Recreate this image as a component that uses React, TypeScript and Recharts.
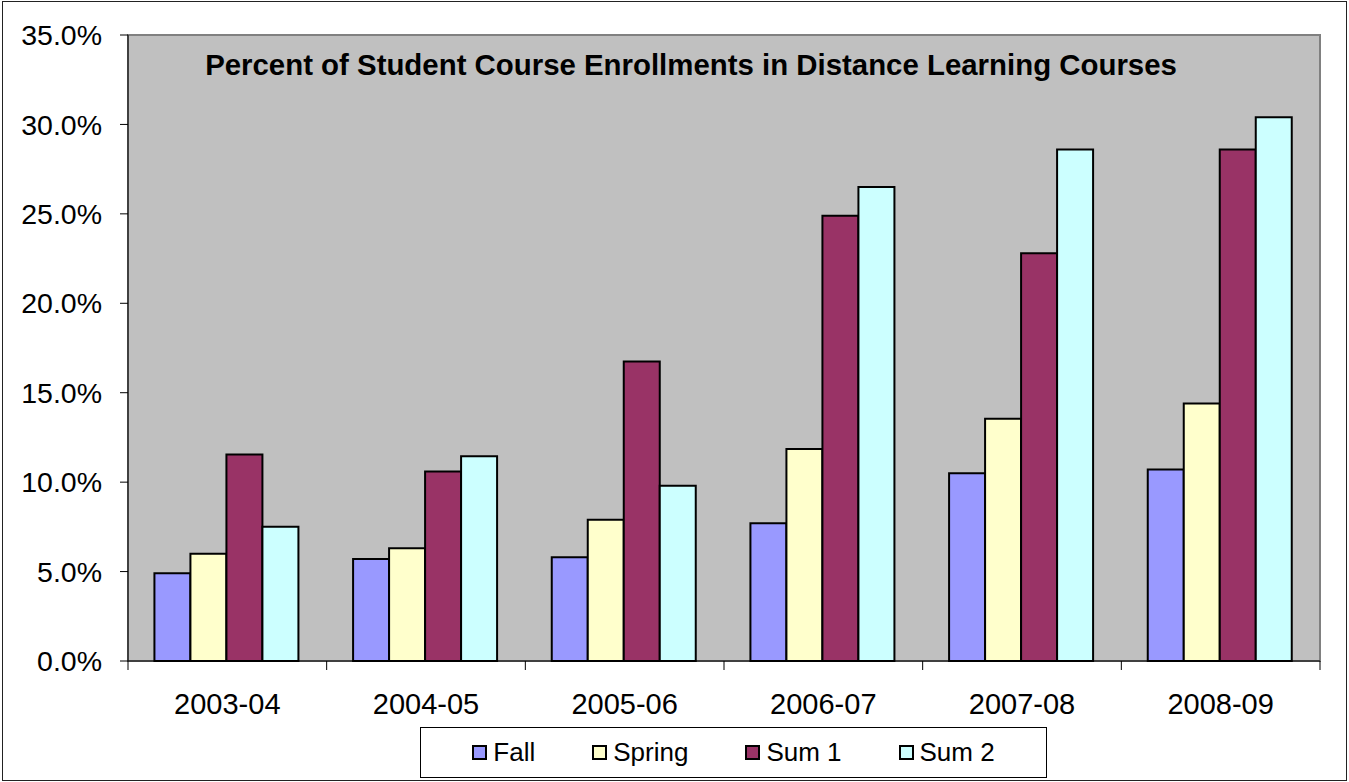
import React from 'react';
import { BarChart, Bar, XAxis, YAxis, CartesianGrid } from 'recharts';

const years = ['2003-04', '2004-05', '2005-06', '2006-07', '2007-08', '2008-09'];
const fall = [4.9, 5.7, 5.8, 7.7, 10.5, 10.7];
const spring = [6.0, 6.3, 7.9, 11.85, 13.55, 14.4];
const sum1 = [11.55, 10.6, 16.75, 24.9, 22.8, 28.6];
const sum2 = [7.5, 11.45, 9.8, 26.5, 28.6, 30.4];
const yTicks = [0, 5, 10, 15, 20, 25, 30, 35];

const series = [
  { key: 'fall', name: 'Fall', color: '#9999FF' },
  { key: 'spring', name: 'Spring', color: '#FFFFCC' },
  { key: 'sum1', name: 'Sum 1', color: '#993366' },
  { key: 'sum2', name: 'Sum 2', color: '#CCFFFF' },
];

const data = years.map((year, i) => ({
  year,
  fall: fall[i],
  spring: spring[i],
  sum1: sum1[i],
  sum2: sum2[i],
}));

const W = 1349;
const H = 782;
const PLOT_LEFT = 128;
const PLOT_RIGHT = 1320;
const PLOT_TOP = 35;
const PLOT_BOTTOM = 661;
const BAND = (PLOT_RIGHT - PLOT_LEFT) / years.length;
const FONT = '"Liberation Sans", Arial, sans-serif';

// label at category centre, tick mark at the left boundary of the category
const XTick = (props: any) => {
  const { x, payload, index } = props;
  return (
    <g>
      <line x1={x - BAND / 2} x2={x - BAND / 2} y1={PLOT_BOTTOM} y2={PLOT_BOTTOM + 9} stroke="#000" strokeWidth={1} />
      {index === years.length - 1 && (
        <line x1={x + BAND / 2} x2={x + BAND / 2} y1={PLOT_BOTTOM} y2={PLOT_BOTTOM + 9} stroke="#000" strokeWidth={1} />
      )}
      <text x={x} y={PLOT_BOTTOM + 53} textAnchor="middle" fontSize={29} fill="#000" fontFamily={FONT}>
        {payload.value}
      </text>
    </g>
  );
};

export default function App() {
  return (
    <div style={{ position: 'absolute', left: 0, top: 0, width: W, height: H, background: '#fff', fontFamily: FONT }}>
      <div
        style={{
          position: 'absolute',
          left: 2,
          top: 1,
          width: 1343,
          height: 778,
          border: '1px solid #222',
        }}
      />
      <BarChart
        width={W}
        height={H}
        data={data}
        margin={{ top: PLOT_TOP, right: W - PLOT_RIGHT, left: 0, bottom: 0 }}
        barCategoryGap="13.3%"
        barGap={0}
      >
        <rect x={PLOT_LEFT} y={PLOT_TOP} width={PLOT_RIGHT - PLOT_LEFT} height={PLOT_BOTTOM - PLOT_TOP} fill="#C0C0C0" stroke="#808080" strokeWidth={2} />
        <CartesianGrid vertical={false} stroke="#333" strokeWidth={1} />
        <XAxis
          dataKey="year"
          height={H - PLOT_BOTTOM}
          tickLine={false}
          axisLine={{ stroke: '#000', strokeWidth: 1 }}
          interval={0}
          tick={<XTick />}
        />
        <YAxis
          width={PLOT_LEFT}
          domain={[0, 35]}
          ticks={yTicks}
          interval={0}
          tickSize={8}
          tickMargin={18}
          tickLine={{ stroke: '#000' }}
          axisLine={{ stroke: '#000', strokeWidth: 1 }}
          tickFormatter={(v: number) => `${v.toFixed(1)}%`}
          tick={{ fontSize: 28.5, fill: '#000', fontFamily: FONT }}
        />
        {series.map((s) => (
          <Bar
            key={s.key}
            dataKey={s.key}
            name={s.name}
            fill={s.color}
            stroke="#000"
            strokeWidth={2}
            isAnimationActive={false}
          />
        ))}
        <text x={691} y={75} textAnchor="middle" fontSize={29.4} fontWeight="bold" fill="#000" fontFamily={FONT}>
          Percent of Student Course Enrollments in Distance Learning Courses
        </text>
      </BarChart>
      <div
        style={{
          position: 'absolute',
          left: 420,
          top: 727,
          width: 627,
          height: 51,
          border: '1px solid #000',
          boxSizing: 'border-box',
          display: 'flex',
          alignItems: 'center',
          justifyContent: 'center',
          gap: 57,
          fontSize: 26,
          color: '#000',
        }}
      >
        {series.map((s) => (
          <div key={s.key} style={{ display: 'flex', alignItems: 'center' }}>
            <span
              style={{
                display: 'inline-block',
                width: 11,
                height: 11,
                background: s.color,
                border: '2px solid #000',
                marginRight: 6,
              }}
            />
            <span>{s.name}</span>
          </div>
        ))}
      </div>
    </div>
  );
}
